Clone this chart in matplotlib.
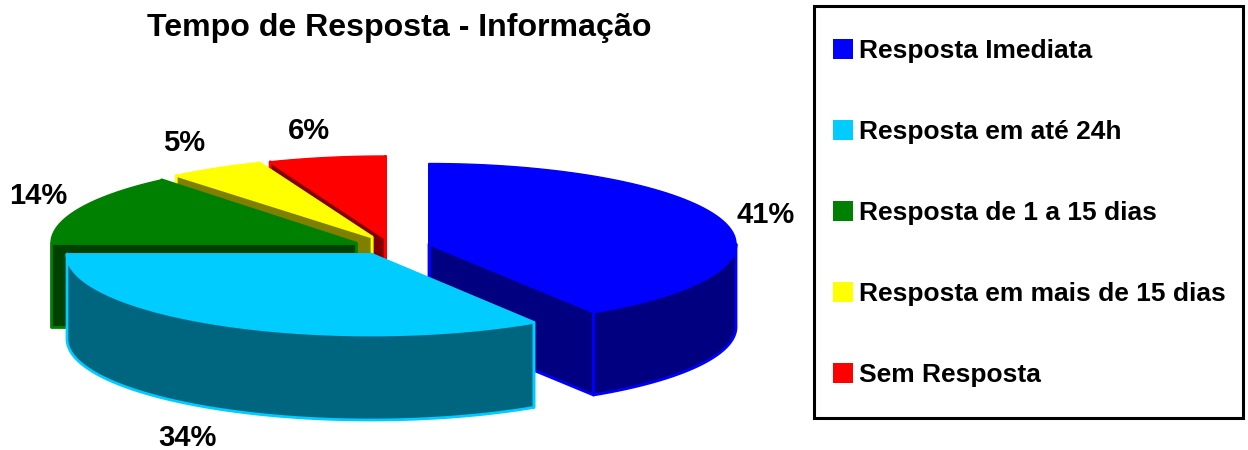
import numpy as np
import matplotlib
matplotlib.use('Agg')
import matplotlib.pyplot as plt
from matplotlib.patches import Polygon, Rectangle

plt.rcParams['font.family'] = ['Liberation Sans', 'DejaVu Sans']

title = 'Tempo de Resposta - Informação'
categories = ['Resposta Imediata', 'Resposta em até 24h', 'Resposta de 1 a 15 dias',
              'Resposta em mais de 15 dias', 'Sem Resposta']
values = [41, 34, 14, 5, 6]

colors = ['#0000ff', '#00ccff', '#008000', '#ffff00', '#ff0000']
dark_colors = ['#000080', '#006680', '#004000', '#808000', '#800000']

# posicao de cada fatia (explodida) em pixels da imagem
centers = [(429, 244), (371, 254), (356, 243), (372, 237), (385, 238)]
radii_x = [307, 304, 305, 307, 312]
radii_y = [80.5, 81, 82, 80, 82]
depths = [83, 85, 84, 84, 84]
label_pos = [(766, 215), (187, 438), (38, 196), (184, 143), (309, 131)]
legend_y = [49, 130, 211, 292, 373]
draw_order = [4, 3, 2, 0, 1]

fig = plt.figure(figsize=(12.48, 4.5), dpi=100)
ax = fig.add_axes([0, 0, 1, 1])
ax.set_xlim(0, 1248)
ax.set_ylim(450, 0)
ax.axis('off')

# angulos acumulados em graus, sentido horario a partir do topo
edges = np.cumsum([0] + values) / sum(values) * 360


def rim(i, a, b):
    t = np.radians(np.linspace(a, b, 80))
    x = centers[i][0] + radii_x[i] * np.sin(t)
    y = centers[i][1] - radii_y[i] * np.cos(t)
    return np.column_stack([x, y])


def wall(i, ang):
    # parede radial da fatia
    cx, cy = centers[i]
    p = rim(i, ang, ang)[0]
    d = depths[i]
    return [(cx, cy), tuple(p), (p[0], p[1] + d), (cx, cy + d)]


for i in draw_order:
    a, b = edges[i], edges[i + 1]
    style = dict(facecolor=dark_colors[i], edgecolor=colors[i], linewidth=2, joinstyle='round')
    ax.add_patch(Polygon(wall(i, b), closed=True, **style))
    ax.add_patch(Polygon(wall(i, a), closed=True, **style))
    # parede curva, so a parte da frente (90 a 270 graus)
    lo, hi = max(a, 90), min(b, 270)
    if hi > lo:
        top_edge = rim(i, lo, hi)
        low_edge = top_edge[::-1] + [0, depths[i]]
        ax.add_patch(Polygon(np.vstack([top_edge, low_edge]), closed=True, **style))
    top = np.vstack([[centers[i]], rim(i, a, b)])
    ax.add_patch(Polygon(top, closed=True, facecolor=colors[i], edgecolor=colors[i],
                         linewidth=1, joinstyle='round'))

for v, (x, y) in zip(values, label_pos):
    ax.text(x, y, f'{v}%', fontsize=21, fontweight='bold', ha='center', va='center')

ax.text(399, 28, title, fontsize=23.1, fontweight='bold', ha='center', va='center')

ax.add_patch(Rectangle((814, 6), 429, 412, facecolor='white', edgecolor='black', linewidth=2.2))
for name, c, y in zip(categories, colors, legend_y):
    ax.add_patch(Rectangle((833, y - 10), 20, 20, facecolor=c, edgecolor='none'))
    ax.text(859, y + 2, name, fontsize=19, fontweight='bold', ha='left', va='center')

fig.savefig('out.png', dpi=100)
